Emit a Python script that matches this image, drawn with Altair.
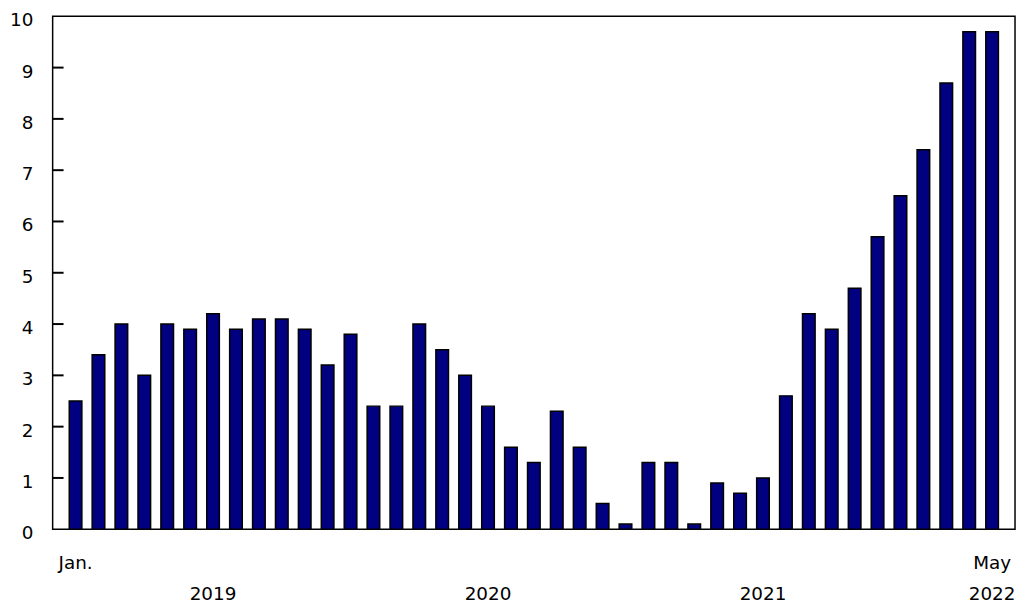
import altair as alt
import pandas as pd

months = [f"{y}-{m:02d}" for y in (2019, 2020, 2021) for m in range(1, 13)] + [f"2022-{m:02d}" for m in range(1, 6)]
values = [2.5, 3.4, 4.0, 3.0, 4.0, 3.9, 4.2, 3.9, 4.1, 4.1, 3.9, 3.2,
          3.8, 2.4, 2.4, 4.0, 3.5, 3.0, 2.4, 1.6, 1.3, 2.3, 1.6, 0.5,
          0.1, 1.3, 1.3, 0.1, 0.9, 0.7, 1.0, 2.6, 4.2, 3.9, 4.7, 5.7,
          6.5, 7.4, 8.7, 9.7, 9.7]
y_ticks = [0, 1, 2, 3, 4, 5, 6, 7, 8, 9, 10]
inner_ticks = [1, 2, 3, 4, 5, 6, 7, 8, 9]
month_label_pos = ["2019-01", "2022-05"]
month_label_text = ["Jan.", "May"]
year_label_pos = ["2019-07", "2020-07", "2021-07", "2022-05"]
year_label_text = ["2019", "2020", "2021", "2022"]

W, H = 970, 517
FONT = "DejaVu Sans"
FS = 18.5

bars_df = pd.DataFrame({"month": months, "value": values})
ticks_df = pd.DataFrame({"v": inner_ticks})
mlab_df = pd.DataFrame({"month": month_label_pos, "text": month_label_text})
ylab_df = pd.DataFrame({"month": year_label_pos, "text": year_label_text})

xscale = alt.Scale(domain=months, paddingInner=0.45, paddingOuter=0.725)
yscale = alt.Scale(domain=[0, 10], nice=False)

bars = alt.Chart(bars_df).mark_bar(fill="#000080", stroke="#000000", strokeWidth=1.5).encode(
    x=alt.X("month:O", scale=xscale, sort=None,
            axis=alt.Axis(title=None, labels=False, ticks=False, domain=False, grid=False)),
    y=alt.Y("value:Q", scale=yscale,
            axis=alt.Axis(title=None, values=y_ticks, ticks=False, tickSize=0, domain=False, grid=False,
                          labelPadding=20, labelFont=FONT, labelFontSize=FS, labelColor="#000000",
                          labelOffset=3.5, labelFlush=False)),
)

tick_rules = alt.Chart(ticks_df).mark_rule(color="#000000", strokeWidth=2).encode(
    y=alt.Y("v:Q", scale=yscale),
    x=alt.value(0),
    x2=alt.value(11),
)

month_text = alt.Chart(mlab_df).mark_text(font=FONT, fontSize=FS, color="#000000", align="center",
                                          baseline="alphabetic").encode(
    x=alt.X("month:O", scale=xscale, sort=None),
    y=alt.value(H + 40),
    text="text:N",
)

year_text = alt.Chart(ylab_df).mark_text(font=FONT, fontSize=FS, color="#000000", align="center",
                                         baseline="alphabetic").encode(
    x=alt.X("month:O", scale=xscale, sort=None),
    y=alt.value(H + 71),
    text="text:N",
)

chart = alt.layer(bars, tick_rules, month_text, year_text).properties(
    width=W, height=H,
    autosize=alt.AutoSizeParams(type="none"),
    padding={"left": 45, "top": 6, "right": 3, "bottom": 74},
    background="white",
).configure_view(stroke="#000000", strokeWidth=1.5)

chart.save("out.html", embed_options={"renderer": "svg", "actions": False})
